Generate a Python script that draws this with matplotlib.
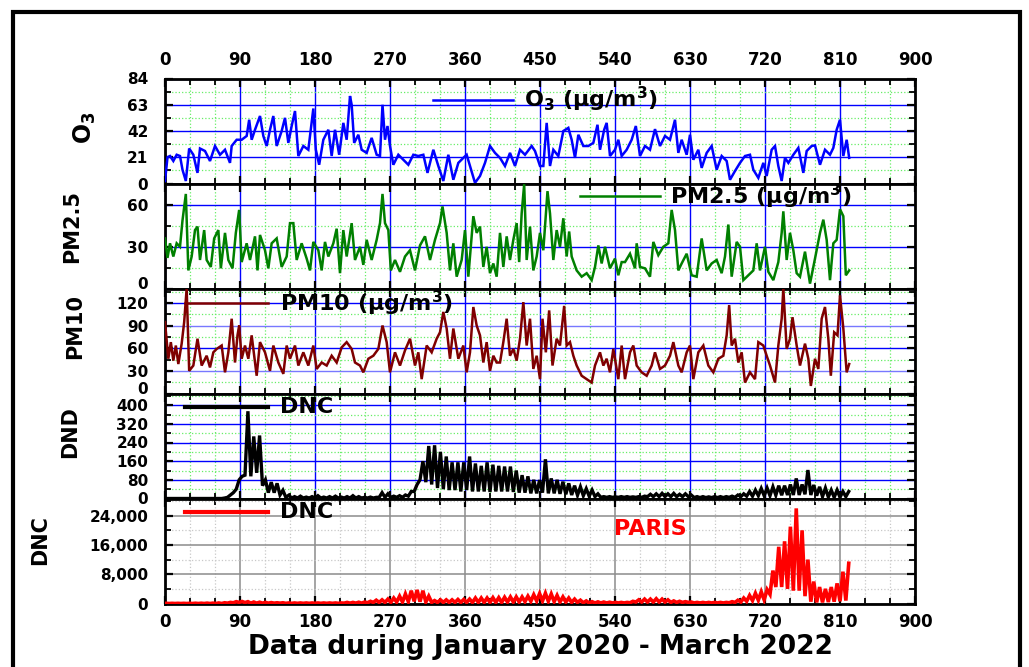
import numpy as np
import matplotlib
matplotlib.use("Agg")
import matplotlib.pyplot as plt
from matplotlib.ticker import MultipleLocator, FuncFormatter
from matplotlib.patches import Rectangle

plt.rcParams['font.family'] = ['DejaVu Sans']
plt.rcParams['font.weight'] = 'bold'
plt.rcParams['mathtext.default'] = 'bf'

# ---------------- data (day index, value) ----------------
O3_DATA = [(0,2),(3,21),(6,22),(10,18),(14,23),(18,22),(21,11),(25,2),(29,28),(34,23),(39,8.5),(42,28),
    (48,26),(54,18),(60,30),(66,23),(72,27),(78,16.5),(80,30),(86,35),(92,35),(98,38),(101,51),(104,35),
    (108,43),(114,54),(118,38),(122,30),(126,43),(130,54),(134,30),(140,42),(144,52.5),(148,32.5),(152,46),
    (156,58),(160,22),(166,30),(172,27),(178,60),(181,27),(185,15),(190,35),(196,43),(200,22),(204,43),
    (209,23),(214,48.5),(218,35),(222,70),(224,63),(227,32.5),(232,39),(236,27),(242,24.5),(248,36.5),
    (254,23),(258,22),(261,63),(264,35),(267,46),(270,30),(274,15),(280,23),(286,19),(292,15),(298,23),
    (304,22),(310,23),(315,8.5),(322,27),(328,14),(334,2),(340,23),(346,3),(352,16.5),(358,20.5),(362,23),
    (366,14),(372,0.5),(378,6),(384,16.5),(390,30),(396,24.5),(402,20.5),(408,14),(414,24.5),(420,14),
    (426,27),(432,23),(440,30),(444,26),(450,14),(454,14),(458,48.5),(462,14),(466,27),(472,22),(478,42),
    (484,44.5),(488,35),(492,20.5),(496,39),(502,30),(508,30),(514,32.5),(519,47),(522,27),(527,43),
    (530,48.5),(534,22),(540,27),(544,35),(548,22),(554,27),(560,35),(565,46),(570,22),(576,30),(582,27),
    (588,43.5),(594,30),(600,38),(606,35),(612,51),(616,24.5),(620,35),(626,23),(630,39),(634,19),(640,27),
    (644,12.5),(650,24.5),(656,30),(662,11),(668,22),(674,18),(678,3),(684,10),(690,16.5),(696,22),(702,23),
    (706,11),(712,4.5),(718,16.5),(722,6),(728,27),(732,30),(736,14),(740,2),(744,20.5),(748,16.5),(754,23),
    (760,28.5),(766,8.5),(770,26),(776,30),(780,30.5),(786,15),(792,27),(798,23),(802,28.5),(806,43),
    (810,51),(814,22),(818,35),(821,20.5)]

PM25_DATA = [(0,36),(3,22),(6,32.5),(10,23),(14,32.5),(18,30),(21,49),(25,68),(28,13),(32,23),(36,42),
    (39,44.5),(42,20.5),(47,42),(50,20.5),(55,15.5),(59,36),(64,42),(67,14.5),(72,40),(76,20.5),(81,14.5),
    (85,40),(89,56.5),(92,19),(98,32.5),(102,20.5),(108,37.5),(111,13),(114,38.5),(120,27.5),(124,14.5),
    (128,32.5),(134,36),(140,15.5),(146,23),(150,47),(154,47),(158,20.5),(164,32.5),(170,21.5),(174,13),
    (178,33.5),(184,27.5),(188,13),(192,33.5),(196,23),(202,32.5),(206,43),(210,11),(214,42),(218,23),
    (224,47),(228,20.5),(234,30),(238,17),(242,35),(248,20.5),(254,35),(258,47),(261,68),(264,47),(268,42),
    (271,13),(276,20.5),(282,12),(288,23),(294,27.5),(300,13),(306,31),(312,37.5),(318,20.5),(324,35),
    (330,47),(333,59),(338,40),(342,13),(346,32.5),(350,8.5),(356,20.5),(360,42),(364,8.5),(370,52),
    (374,40),(378,44.5),(382,15.5),(386,30),(390,11),(394,18),(398,8.5),(402,40),(406,15.5),(410,37.5),
    (414,20.5),(418,35),(422,47),(425,19),(428,54),(431,75),(434,20.5),(438,44.5),(442,13),(446,23),
    (450,40),(454,27.5),(459,70),(462,54),(466,20.5),(470,42),(474,30),(478,50.5),(482,23),(485,41),
    (488,23),(494,13),(500,8.5),(506,11),(512,6),(516,15.5),(520,31),(524,18),(528,30),(534,14.5),
    (540,21.5),(544,9.5),(548,19),(552,19),(558,25),(564,14.5),(566,32.5),(570,15.5),(576,14.5),(582,8.5),
    (586,33.5),(592,24),(598,30),(604,32.5),(608,56.5),(612,42),(616,13),(620,18),(626,25),(632,9.5),
    (638,8.5),(644,36),(650,13),(656,18),(662,20.5),(668,11),(672,23),(676,46),(680,8.5),(686,33.5),
    (690,30),(694,6),(700,9.5),(706,13),(710,32.5),(714,13),(720,30),(724,12),(730,6),(736,19),(740,40),
    (742,55.5),(746,20.5),(750,40),(754,27.5),(758,11),(762,8.5),(768,26.5),(774,3.5),(780,21.5),(786,40),
    (790,49.5),(794,35),(798,6),(802,32.5),(806,35),(810,57),(814,52),(817,9.5),(821,13)]

PM10_DATA = [(0,94.5),(4,46),(7,68),(10,43.5),(13,63.5),(16,39),(20,66),(23,94.5),(26,139),(29,30),(34,37),
    (39,72.5),(44,37),(50,50),(54,34.5),(58,54.5),(62,59),(68,63.5),(72,28),(76,54.5),(80,99),(84,41),
    (87,77),(89,90),(92,46),(96,63.5),(100,46),(104,77),(110,23.5),(114,68),(120,54.5),(126,30),(130,63.5),
    (136,41),(142,26),(146,63.5),(150,46),(156,63.5),(160,37),(166,54.5),(172,37),(178,63.5),(182,32.5),
    (188,41),(194,37),(200,50),(206,41),(212,61),(218,68),(224,59),(228,41),(234,37),(238,28),(244,46),
    (250,50),(256,59),(261,90),(266,68),(270,28),(276,54.5),(282,37),(288,57),(294,72.5),(300,37),(304,54.5),
    (308,19),(314,63.5),(320,54.5),(326,72.5),(330,81),(334,108),(338,86),(342,46),(346,86),(352,46),
    (358,63.5),(362,28),(366,54.5),(370,114.5),(374,90),(378,77),(382,41),(386,68),(390,30),(394,50),
    (398,41),(402,41),(406,68),(410,99),(414,50),(418,59),(422,43.5),(426,72.5),(430,121),(434,63.5),
    (438,99),(442,32.5),(446,50),(450,19),(453,99),(457,54.5),(461,110),(465,37),(470,72.5),(474,63.5),
    (479,116),(482,63.5),(486,68),(490,50),(494,37),(500,23.5),(506,19),(512,14.5),(516,37),(522,54.5),
    (526,37),(530,46),(534,28),(538,59),(544,19),(548,63.5),(552,19),(558,54.5),(562,63.5),(566,37),
    (572,28),(578,23.5),(584,37),(588,54.5),(594,32.5),(600,37),(606,50),(610,68),(616,37),(620,28),
    (626,54.5),(630,63.5),(634,19),(640,54.5),(646,63.5),(652,37),(658,28),(664,46),(670,50),(674,77),
    (677,117),(680,63.5),(684,72.5),(688,41),(692,54.5),(696,14.5),(702,28),(708,19),(712,68),(718,63.5),
    (722,50),(726,37),(732,14.5),(736,63.5),(740,99),(742,139),(746,59),(750,72.5),(753,101),(758,63.5),
    (762,37),(768,66),(772,46),(775,10),(780,46),(784,32.5),(788,99),(792,114.5),(796,72.5),(799,23.5),
    (803,81),(807,77),(810,130),(814,86),(818,28),(821,39)]

# weekly high / low values of the daily-case series (one pair per week)
DND_PEAK = [0,0,0,0,0,0,0,0,0,0,
    2,15,40,95,374,266,270,80,70,65,35,14,
    8,10,6,8,12,6,8,10,6,8,12,8,
    5,6,5,
    25,20,10,12,15,30,60,160,225,228,200,180,155,155,155,180,150,140,155,145,140,137,137,120,100,95,80,79,
    168,86,80,72,65,55,50,42,36,20,
    8,8,7,8,8,7,8,10,
    18,20,22,20,22,18,20,15,
    8,8,7,8,8,8,
    10,15,20,30,36,43,45,50,55,55,60,86,60,122,58,50,45,36,36,30,30]
DND_LOW = [0,0,0,0,0,0,0,0,0,0,
    0,5,25,80,100,95,110,55,25,25,15,5,
    2,2,2,2,2,2,2,2,2,2,2,2,
    2,2,2,
    5,5,5,5,5,10,30,80,70,60,45,40,36,36,30,36,30,30,30,28,30,30,30,28,25,25,22,22,25,22,22,20,18,15,14,12,10,8,
    5,5,5,5,5,5,5,5,
    8,8,8,8,8,8,8,8,
    4,4,4,4,4,4,
    5,5,8,10,10,12,12,12,14,14,15,15,15,18,15,12,8,6,5,5,8]

DNC_PEAK = [50,50,50,50,50,80,80,100,100,150,200,
    300,500,550,500,
    400,350,300,250,200,200,
    150,150,150,150,150,150,150,150,150,150,
    300,300,350,400,
    600,900,1000,1200,1500,2000,2600,3500,3700,3500,2000,800,
    1000,1000,1000,1100,1100,1200,
    1500,1500,1500,1600,1600,1700,
    1800,1800,1800,
    2000,2400,2700,2800,2600,2200,1800,1500,1200,900,700,
    500,450,400,350,300,300,300,
    600,
    1000,1200,1200,1300,1200,1000,
    700,600,500,400,
    300,300,300,300,300,300,
    500,900,1500,2200,2800,3200,3800,
    9000,15500,17000,21000,26000,20000,12000,6000,4500,4000,4500,5500,8700,11000]
DNC_LOW = [0,0,0,0,0,0,0,0,0,0,0,
    100,200,300,250,
    100,100,100,100,100,100,
    50,50,50,50,50,50,50,50,50,50,
    100,100,100,100,
    200,300,300,300,300,400,400,500,600,500,400,300,
    300,300,300,300,300,300,
    300,300,300,300,300,300,
    400,400,400,
    500,600,700,700,600,500,400,400,300,300,200,
    150,150,150,150,150,150,150,
    200,
    400,400,400,400,400,400,
    300,300,300,300,
    150,150,150,150,150,150,
    200,300,400,600,800,900,1000,
    2500,4500,4500,4000,3500,3500,2000,500,300,300,400,500,600,800]

X_TICKS = [0, 90, 180, 270, 360, 450, 540, 630, 720, 810, 900]

o3_day, o3_val = map(np.array, zip(*O3_DATA))
pm25_day, pm25_val = map(np.array, zip(*PM25_DATA))
pm10_day, pm10_val = map(np.array, zip(*PM10_DATA))

weeks = np.arange(len(DND_PEAK))
wk_day = np.column_stack((weeks * 7 - 2.0, weeks * 7 + 1.5)).ravel()
dnd_val = np.column_stack((DND_LOW, DND_PEAK)).ravel()
dnc_val = np.column_stack((DNC_LOW, DNC_PEAK)).ravel()

# ---------------- figure ----------------
W, H = 1029, 667
fig = plt.figure(figsize=(W / 100, H / 100), dpi=100)

left_px, right_px = 165, 915
top_px, panel_h = 78.5, 105
axes = []
for i in range(5):
    b = 1 - (top_px + panel_h * (i + 1)) / H
    ax = fig.add_axes([left_px / W, b, (right_px - left_px) / W, panel_h / H])
    axes.append(ax)

ax_o3, ax_25, ax_10, ax_dnd, ax_dnc = axes

panel_specs = [
    (ax_o3, o3_day, o3_val, '#0000FF', 1.8, (0, 84), 21, 10.5),
    (ax_25, pm25_day, pm25_val, '#008000', 1.8, (0, 75.5), 30, 15),
    (ax_10, pm10_day, pm10_val, '#7F0000', 1.8, (0, 139), 30, 15),
    (ax_dnd, wk_day, dnd_val, '#000000', 2.4, (0, 450), 80, 40),
    (ax_dnc, wk_day, dnc_val, '#FF0000', 2.6, (0, 28700), 8000, 4000),
]

for k, (ax, xd, yd, col, lw, ylim, major, minor) in enumerate(panel_specs):
    ax.plot(xd, yd, color=col, lw=lw, solid_joinstyle='miter', zorder=3)
    ax.set_xlim(0, 900)
    ax.set_ylim(*ylim)
    ax.xaxis.set_major_locator(MultipleLocator(90))
    ax.xaxis.set_minor_locator(MultipleLocator(30))
    ax.yaxis.set_major_locator(MultipleLocator(major))
    ax.yaxis.set_minor_locator(MultipleLocator(minor))
    ax.set_axisbelow(True)
    if ax is ax_dnc:
        ax.grid(which='major', color='#8c8c8c', lw=1.1, ls='-')
        ax.grid(which='minor', color='#c8c8c8', lw=0.9, ls=':')
    else:
        ax.grid(which='major', color='#0000FF', lw=1.0, ls='-')
        ax.grid(which='minor', color='#66EE66', lw=0.9, ls=':')
    ax.tick_params(which='major', direction='in', length=6, width=1.6,
                   top=True, right=True, labelsize=12, pad=7)
    ax.tick_params(which='minor', direction='in', length=4, width=1.3,
                   top=True, right=True)
    ax.tick_params(axis='y', which='major', pad=12, labelsize=11)
    ax.tick_params(axis='x', labelbottom=False, labeltop=False)
    for s in ax.spines.values():
        s.set_linewidth(2.0)

ax_o3.tick_params(axis='x', labeltop=True)
ax_o3.set_xticks(X_TICKS)
ax_dnc.tick_params(axis='x', labelbottom=True)
ax_dnc.set_xticks(X_TICKS)
ax_dnc.yaxis.set_major_formatter(FuncFormatter(lambda v, p: f'{int(v):,}'))

ax_o3.set_yticks([0, 21, 42, 63, 84])
ax_25.set_yticks([0, 30, 60])
ax_10.set_yticks([0, 30, 60, 90, 120])
ax_dnd.set_yticks([0, 80, 160, 240, 320, 400])
ax_dnc.set_yticks([0, 8000, 16000, 24000])

for ax in axes:
    for lab in ax.get_xticklabels() + ax.get_yticklabels():
        lab.set_fontweight('bold')

# keep the "0" labels of the two middle panels clear of the panel below
for ax in (ax_25, ax_10):
    ax.yaxis.get_major_ticks()[0].label1.set_verticalalignment('baseline')

# lighter blue for alternating PM10 grid lines
for gl, val in zip(ax_10.get_ygridlines(), [0, 30, 60, 90, 120]):
    if val in (30, 90):
        gl.set_color('#7878FF')

# ---------------- legends (manual) ----------------
def legend(ax, x0, x1, y, xt, col, label, lw):
    ax.plot([x0, x1], [y, y], transform=ax.transAxes, color=col, lw=lw, zorder=5, clip_on=False)
    ax.text(xt, y, label, transform=ax.transAxes, fontsize=16, fontweight='bold',
            va='center', ha='left', zorder=5)

legend(ax_o3, 0.357, 0.464, 0.80, 0.478, '#0000FF', r'O$_3$ ($\mathbf{\mu}$g/m$^3$)', 1.8)
legend(ax_25, 0.553, 0.660, 0.88, 0.673, '#008000', r'PM2.5 ($\mathbf{\mu}$g/m$^3$)', 1.8)
legend(ax_10, 0.027, 0.137, 0.86, 0.153, '#7F0000', r'PM10 ($\mathbf{\mu}$g/m$^3$)', 1.8)
legend(ax_dnd, 0.027, 0.137, 0.875, 0.153, '#000000', 'DNC', 3)
legend(ax_dnc, 0.027, 0.137, 0.87, 0.153, '#FF0000', 'DNC', 3)

ax_dnc.text(582, 20300, 'PARIS', color='#FF0000', fontsize=16, fontweight='bold',
            ha='center', va='center', zorder=5)

# ---------------- axis titles ----------------
def ylab(ax, x, y, s, fs):
    ax.text(x, y, s, transform=ax.transAxes, rotation=90, ha='center', va='center',
            fontsize=fs, fontweight='bold')

ylab(ax_o3, -0.107, 0.53, r'O$_3$', 17)
ylab(ax_25, -0.124, 0.59, 'PM2.5', 15)
ylab(ax_10, -0.120, 0.64, 'PM10', 15)
ylab(ax_dnd, -0.127, 0.63, 'DND', 15)
ylab(ax_dnc, -0.167, 0.60, 'DNC', 15)

ax_dnc.set_xlabel('Data during January 2020 - March 2022', fontsize=19, fontweight='bold', labelpad=2)

# ---------------- outer frame ----------------
fig.patches.append(Rectangle((13 / W, -0.02), (1020 - 13) / W, 1 - 12 / H + 0.02,
                             transform=fig.transFigure, fill=False, lw=3, ec='black'))

fig.savefig('out.png', dpi=100)
